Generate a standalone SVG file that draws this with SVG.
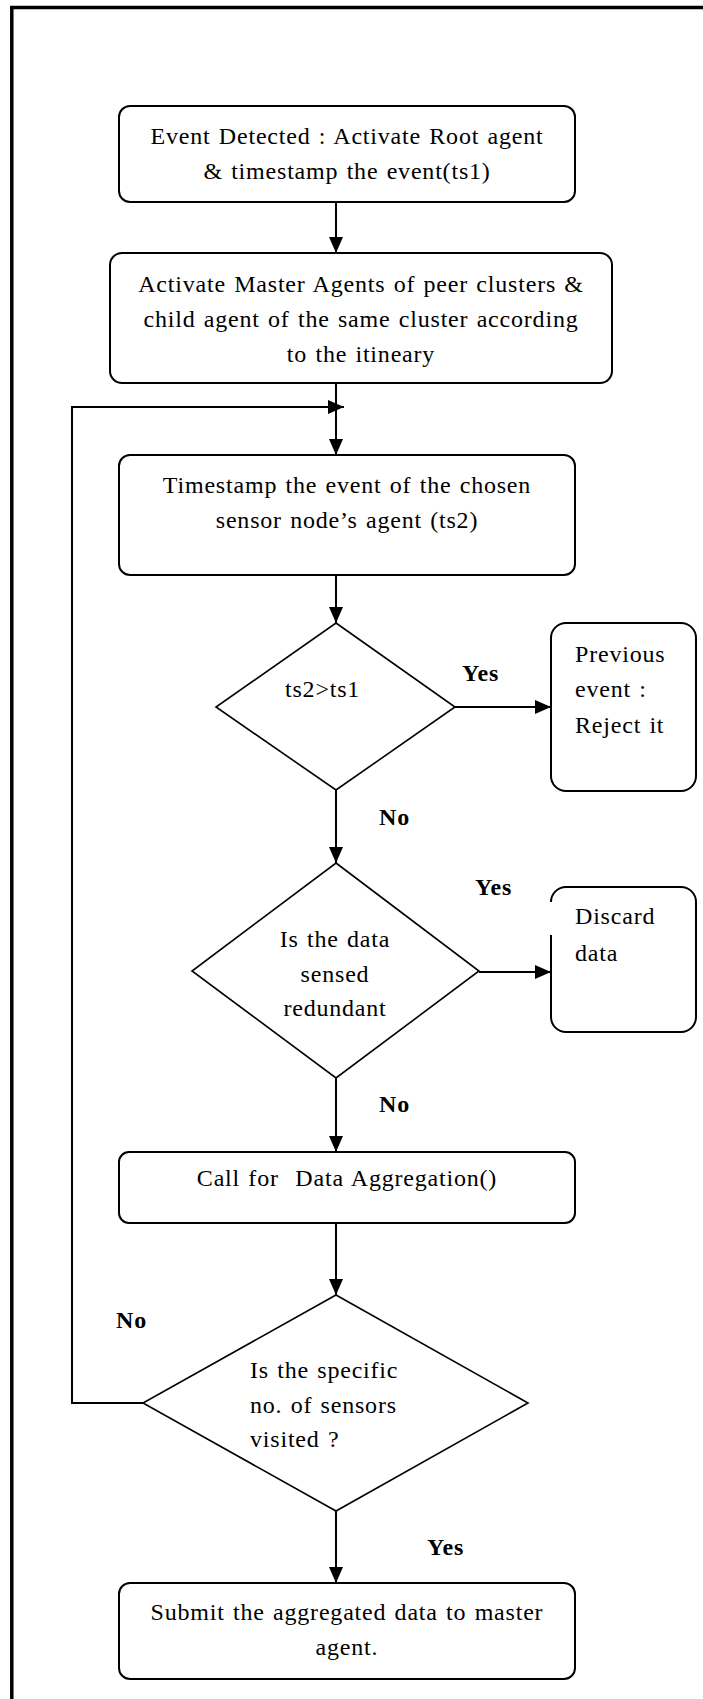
<svg xmlns="http://www.w3.org/2000/svg" width="703" height="1699" viewBox="0 0 703 1699">
  <style>
    .box { fill: #ffffff; stroke: #000000; stroke-width: 2; }
    .dia { fill: #ffffff; stroke: #000000; stroke-width: 1.6; }
    .edge { fill: none; stroke: #000000; stroke-width: 2; }
    .frame { fill: none; stroke: #000000; stroke-width: 3.5; }
    text { font-family: "Liberation Serif", "Times New Roman", serif; font-size: 24px; letter-spacing: 0.8px; word-spacing: 1.5px; fill: #000000; }
    .c { text-anchor: middle; }
    .lbl { font-weight: bold; }
  </style>
  <defs>
    <marker id="arrow" markerUnits="userSpaceOnUse" markerWidth="16" markerHeight="14" refX="16" refY="7" orient="auto">
      <path d="M0,0 L16,7 L0,14 z" fill="#000000"/>
    </marker>
  </defs>

  <rect x="0" y="0" width="703" height="1699" fill="#ffffff"/>

  <!-- page frame: top and left rules -->
  <g id="frame">
    <line class="frame" x1="10" y1="7.6" x2="703" y2="7.6"/>
    <line class="frame" x1="11.8" y1="6" x2="11.8" y2="1699"/>
  </g>

  <!-- connectors -->
  <g id="connectors">
    <line class="edge" x1="336" y1="202" x2="336" y2="253" marker-end="url(#arrow)"/>
    <line class="edge" x1="336" y1="383" x2="336" y2="455" marker-end="url(#arrow)"/>
    <polyline class="edge" points="143,1403 72,1403 72,407 344,407" marker-end="url(#arrow)"/>
    <line class="edge" x1="336" y1="575" x2="336" y2="623" marker-end="url(#arrow)"/>
    <line class="edge" x1="455" y1="707" x2="551" y2="707" marker-end="url(#arrow)"/>
    <line class="edge" x1="336" y1="790" x2="336" y2="863" marker-end="url(#arrow)"/>
    <line class="edge" x1="479" y1="972" x2="551" y2="972" marker-end="url(#arrow)"/>
    <line class="edge" x1="336" y1="1078" x2="336" y2="1152" marker-end="url(#arrow)"/>
    <line class="edge" x1="336" y1="1223" x2="336" y2="1295" marker-end="url(#arrow)"/>
    <line class="edge" x1="336" y1="1511" x2="336" y2="1583" marker-end="url(#arrow)"/>
  </g>

  <!-- branch labels -->
  <g id="labels">
    <text class="lbl" x="462" y="681">Yes</text>
    <text class="lbl" x="379" y="825">No</text>
    <text class="lbl" x="475" y="895">Yes</text>
    <text class="lbl" x="379" y="1112">No</text>
    <text class="lbl" x="116" y="1328">No</text>
    <text class="lbl" x="427" y="1555">Yes</text>
  </g>

  <g id="event-detected">
    <rect class="box" x="119" y="106" width="456" height="96" rx="11"/>
    <text class="c" x="347" y="144">Event Detected : Activate Root agent</text>
    <text class="c" x="347" y="179">&amp; timestamp the event(ts1)</text>
  </g>

  <g id="activate-agents">
    <rect class="box" x="110" y="253" width="502" height="130" rx="12"/>
    <text class="c" x="361" y="292">Activate Master Agents of peer clusters &amp;</text>
    <text class="c" x="361" y="327">child agent of the same cluster according</text>
    <text class="c" x="361" y="362">to the itineary</text>
  </g>

  <g id="timestamp-sensor">
    <rect class="box" x="119" y="455" width="456" height="120" rx="11"/>
    <text class="c" x="347" y="493">Timestamp the event of the chosen</text>
    <text class="c" x="347" y="528">sensor node’s agent (ts2)</text>
  </g>

  <g id="check-ts">
    <polygon class="dia" points="336,623 455,707 336,790 216,707"/>
    <text x="285" y="697">ts2&gt;ts1</text>
  </g>

  <g id="reject-event">
    <rect class="box" x="551" y="623" width="145" height="168" rx="15"/>
    <text x="575" y="662">Previous</text>
    <text x="575" y="697">event :</text>
    <text x="575" y="733">Reject it</text>
  </g>

  <g id="check-redundant">
    <polygon class="dia" points="336,863 479,971 336,1078 192,971"/>
    <text class="c" x="335" y="947">Is the data</text>
    <text class="c" x="335" y="982">sensed</text>
    <text class="c" x="335" y="1016">redundant</text>
  </g>

  <g id="discard-data">
    <path class="box" d="M551,935 V1017 A15,15 0 0 0 566,1032 H681 A15,15 0 0 0 696,1017 V902 A15,15 0 0 0 681,887 H566 A15,15 0 0 0 551,902"/>
    <text x="575" y="924">Discard</text>
    <text x="575" y="961">data</text>
  </g>

  <g id="aggregate">
    <rect class="box" x="119" y="1152" width="456" height="71" rx="10"/>
    <text class="c" x="347" y="1186" xml:space="preserve">Call for  Data Aggregation()</text>
  </g>

  <g id="check-visited">
    <polygon class="dia" points="336,1295 528,1403 336,1511 143,1403"/>
    <text x="250" y="1378">Is the specific</text>
    <text x="250" y="1413">no. of sensors</text>
    <text x="250" y="1447">visited ?</text>
  </g>

  <g id="submit">
    <rect class="box" x="119" y="1583" width="456" height="96" rx="11"/>
    <text class="c" x="347" y="1620">Submit the aggregated data to master</text>
    <text class="c" x="347" y="1655">agent.</text>
  </g>
</svg>
